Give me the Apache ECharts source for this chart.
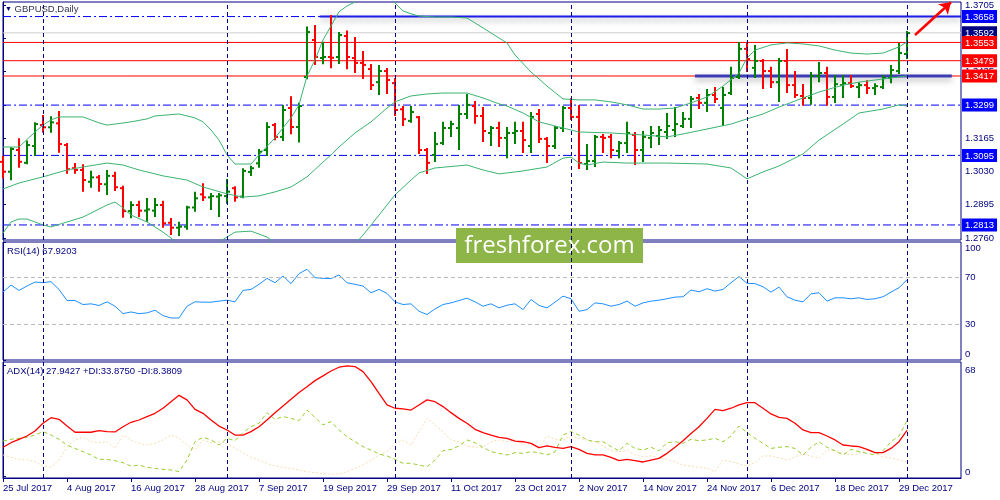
<!DOCTYPE html>
<html>
<head>
<meta charset="utf-8">
<script src="https://cdn.jsdelivr.net/npm/echarts@6/dist/echarts.min.js"></script>
<style>
html,body{margin:0;padding:0;background:#fff;}
#main{width:1000px;height:500px;}
</style>
</head>
<body>
<div id="main"></div>
<script>
// GBPUSD daily, 25 Jul - 29 Dec 2017, one bar every trading day
var dateLabels = ['25 Jul 2017','4 Aug 2017','16 Aug 2017','28 Aug 2017','7 Sep 2017','19 Sep 2017','29 Sep 2017',
  '11 Oct 2017','23 Oct 2017','2 Nov 2017','14 Nov 2017','24 Nov 2017','6 Dec 2017','18 Dec 2017','29 Dec 2017'];

var openP = [1.3069,1.3029,1.3117,1.3065,1.3133,1.3218,1.3209,1.3225,1.3137,1.3043,
  1.3036,1.2988,1.3006,1.2978,1.3012,1.2962,1.2869,1.2894,1.2871,1.2871,
  1.2894,1.2822,1.2802,1.2806,1.2884,1.2937,1.2925,1.2928,1.2930,1.2962,
  1.2928,1.3028,1.3063,1.3117,1.3218,1.3170,1.3287,1.3210,1.3413,1.3563,
  1.3490,1.3494,1.3494,1.3579,1.3490,1.3470,1.3445,1.3392,1.3437,1.3388,
  1.3282,1.3235,1.3250,1.3117,1.3097,1.3145,1.3206,1.3206,1.3263,1.3295,
  1.3255,1.3186,1.3206,1.3166,1.3186,1.3194,1.3133,1.3263,1.3162,1.3133,
  1.3206,1.3287,1.3251,1.3060,1.3072,1.3170,1.3170,1.3113,1.3145,1.3178,
  1.3117,1.3166,1.3174,1.3190,1.3198,1.3214,1.3243,1.3328,1.3308,1.3340,
  1.3287,1.3348,1.3413,1.3527,1.3450,1.3478,1.3437,1.3392,1.3478,1.3380,
  1.3336,1.3328,1.3417,1.3429,1.3332,1.3380,1.3388,1.3372,1.3380,1.3368,
  1.3372,1.3409,1.3437,1.3506];
var highP = [1.3090,1.3124,1.3160,1.3151,1.3225,1.3255,1.3250,1.3271,1.3141,1.3060,
  1.3055,1.3029,1.3012,1.3032,1.3025,1.2968,1.2905,1.2907,1.2918,1.2918,
  1.2907,1.2837,1.2822,1.2887,1.2944,1.2978,1.2939,1.2939,1.2995,1.2966,
  1.3039,1.3049,1.3117,1.3225,1.3222,1.3295,1.3331,1.3304,1.3614,1.3620,
  1.3552,1.3660,1.3591,1.3597,1.3571,1.3514,1.3462,1.3458,1.3445,1.3405,
  1.3291,1.3291,1.3251,1.3121,1.3186,1.3227,1.3231,1.3295,1.3340,1.3312,
  1.3287,1.3210,1.3227,1.3206,1.3227,1.3227,1.3267,1.3279,1.3166,1.3210,
  1.3291,1.3324,1.3295,1.3137,1.3174,1.3178,1.3178,1.3149,1.3227,1.3186,
  1.3190,1.3210,1.3210,1.3263,1.3287,1.3267,1.3332,1.3340,1.3360,1.3368,
  1.3368,1.3450,1.3551,1.3551,1.3539,1.3482,1.3450,1.3486,1.3522,1.3433,
  1.3380,1.3429,1.3470,1.3450,1.3417,1.3417,1.3417,1.3388,1.3396,1.3384,
  1.3417,1.3458,1.3547,1.3595];
var lowP = [1.3006,1.2998,1.3049,1.3063,1.3097,1.3191,1.3191,1.3110,1.3025,1.3025,
  1.2952,1.2968,1.2952,1.2939,1.2955,1.2846,1.2844,1.2849,1.2830,1.2849,
  1.2806,1.2776,1.2772,1.2798,1.2871,1.2914,1.2878,1.2849,1.2903,1.2911,
  1.2925,1.3016,1.3049,1.3097,1.3160,1.3157,1.3185,1.3151,1.3408,1.3466,
  1.3469,1.3452,1.3470,1.3448,1.3433,1.3409,1.3364,1.3344,1.3348,1.3259,
  1.3218,1.3231,1.3105,1.3024,1.3072,1.3141,1.3174,1.3121,1.3247,1.3227,
  1.3153,1.3137,1.3133,1.3088,1.3145,1.3109,1.3109,1.3149,1.3068,1.3125,
  1.3194,1.3243,1.3044,1.3040,1.3052,1.3109,1.3088,1.3088,1.3109,1.3060,
  1.3072,1.3129,1.3141,1.3166,1.3174,1.3210,1.3210,1.3287,1.3275,1.3312,
  1.3218,1.3344,1.3409,1.3437,1.3413,1.3368,1.3372,1.3316,1.3352,1.3332,
  1.3300,1.3304,1.3396,1.3300,1.3312,1.3332,1.3372,1.3332,1.3348,1.3344,
  1.3368,1.3392,1.3429,1.3490];
var closeP = [1.3029,1.3121,1.3069,1.3137,1.3222,1.3209,1.3229,1.3141,1.3039,1.3036,
  1.2995,1.3006,1.2979,1.3012,1.2966,1.2869,1.2894,1.2871,1.2876,1.2894,
  1.2820,1.2802,1.2806,1.2884,1.2921,1.2925,1.2930,1.2933,1.2948,1.2925,
  1.3032,1.3043,1.3110,1.3210,1.3170,1.3279,1.3210,1.3295,1.3595,1.3494,
  1.3494,1.3491,1.3583,1.3494,1.3470,1.3462,1.3380,1.3437,1.3401,1.3279,
  1.3242,1.3271,1.3117,1.3065,1.3141,1.3206,1.3222,1.3263,1.3300,1.3255,
  1.3194,1.3206,1.3166,1.3186,1.3194,1.3157,1.3251,1.3162,1.3133,1.3206,
  1.3287,1.3251,1.3064,1.3072,1.3170,1.3166,1.3117,1.3145,1.3186,1.3117,
  1.3170,1.3186,1.3198,1.3214,1.3222,1.3243,1.3324,1.3308,1.3340,1.3324,
  1.3340,1.3409,1.3527,1.3486,1.3478,1.3437,1.3392,1.3478,1.3380,1.3340,
  1.3328,1.3417,1.3429,1.3332,1.3384,1.3388,1.3376,1.3380,1.3368,1.3376,
  1.3409,1.3441,1.3510,1.3591];

// Bollinger bands, [bar, price]
var bbUpper = [[0,1.3129],[2,1.3129],[4,1.3190],[5,1.3218],[6,1.3239],[7,1.3251],[10,1.3251],[12,1.3227],
  [13,1.3218],[14,1.3222],[16,1.3231],[18,1.3243],[19,1.3255],[22,1.3263],[24,1.3247],[25,1.3231],[26,1.3198],
  [27,1.3157],[28,1.3097],[29,1.3060],[31,1.3060],[32,1.3097],[34,1.3166],[36,1.3247],[37,1.3300],[38,1.3417],
  [39,1.3482],[40,1.3563],[41,1.3620],[42,1.3677],[43,1.3701],[44,1.3717],[45,1.3750],[46,1.3762],[47,1.3762],
  [48,1.3746],[49,1.3713],[50,1.3681],[51,1.3669],[52,1.3660],[54,1.3656],[56,1.3656],[58,1.3652],[60,1.3612],
  [62,1.3571],[63,1.3551],[64,1.3502],[66,1.3433],[67,1.3405],[68,1.3376],[70,1.3324],[72,1.3320],[74,1.3320],
  [76,1.3312],[78,1.3300],[80,1.3283],[82,1.3283],[84,1.3287],[86,1.3308],[88,1.3332],[90,1.3376],[92,1.3429],
  [93,1.3490],[94,1.3522],[96,1.3543],[98,1.3551],[100,1.3547],[102,1.3539],[104,1.3522],[106,1.3510],
  [108,1.3506],[110,1.3510],[112,1.3535],[113,1.3555]];
var bbMid = [[0,1.2959],[2,1.2983],[5,1.3008],[8,1.3036],[10,1.3048],[13,1.3064],[15,1.3056],[17,1.3036],
  [20,1.3012],[23,1.2995],[25,1.2967],[28,1.2939],[30,1.2926],[32,1.2931],[34,1.2947],[36,1.2967],[38,1.3008],
  [40,1.3068],[41,1.3097],[42,1.3129],[44,1.3186],[46,1.3231],[48,1.3287],[49,1.3312],[51,1.3336],[53,1.3344],
  [55,1.3348],[58,1.3348],[60,1.3328],[62,1.3304],[63,1.3295],[65,1.3267],[67,1.3231],[70,1.3206],[72,1.3190],
  [76,1.3186],[80,1.3178],[83,1.3170],[85,1.3182],[88,1.3202],[91,1.3222],[93,1.3243],[95,1.3263],[97,1.3291],
  [100,1.3328],[102,1.3352],[105,1.3380],[107,1.3392],[110,1.3405],[113,1.3417]];
var bbLower = [[0,1.2780],[1,1.2825],[2,1.2837],[3,1.2837],[5,1.2813],[6,1.2805],[8,1.2825],[10,1.2845],
  [11,1.2861],[13,1.2894],[14,1.2906],[15,1.2882],[16,1.2853],[18,1.2825],[20,1.2784],[21,1.2760],[22,1.2732],
  [24,1.2703],[26,1.2719],[27,1.2744],[28,1.2764],[29,1.2784],[31,1.2788],[33,1.2764],[34,1.2740],[36,1.2687],
  [38,1.2647],[40,1.2622],[42,1.2663],[44,1.2736],[45,1.2772],[47,1.2853],[49,1.2935],[51,1.2995],[52,1.3024],
  [54,1.3044],[58,1.3056],[60,1.3036],[62,1.3020],[65,1.3032],[68,1.3048],[70,1.3084],[71,1.3088],[72,1.3064],
  [73,1.3056],[75,1.3068],[78,1.3064],[83,1.3064],[88,1.3060],[91,1.3044],[93,1.3000],[95,1.3028],[97,1.3052],
  [100,1.3101],[102,1.3157],[105,1.3222],[107,1.3267],[110,1.3283],[112,1.3300],[113,1.3295]];

var rsi = [57.5,63.5,59.0,62.7,66.1,65.5,66.4,59.8,50.4,50.4,
  47.0,47.6,46.2,49.3,45.6,39.3,40.7,39.3,39.9,42.2,
  37.6,35.6,35.6,45.6,49.3,49.0,49.0,49.9,50.7,49.3,
  59.0,59.8,64.1,69.2,65.5,71.2,64.7,73.2,76.9,69.8,
  69.2,69.0,72.1,65.5,64.1,62.7,57.0,59.8,56.4,49.3,
  47.0,47.6,41.3,38.5,43.3,47.0,48.4,50.4,52.4,49.3,
  45.6,47.6,44.2,46.4,47.6,42.7,51.3,46.2,44.2,49.0,
  54.1,51.9,41.3,42.7,48.4,47.6,45.6,47.0,49.9,45.6,
  48.4,49.9,50.7,51.9,53.3,53.6,59.3,57.8,60.4,58.4,
  59.8,65.5,70.7,65.0,64.7,62.1,57.5,61.8,53.6,50.7,
  49.3,56.1,57.0,49.9,52.7,52.7,51.9,52.7,51.3,51.9,
  53.6,57.5,61.3,67.9];
var adx = [17.6,20.4,22.5,24.5,27.6,32.3,35.7,34.7,30.6,26.8,
  26.8,26.8,27.8,27.2,27.0,30.2,32.9,34.3,36.4,38.4,
  41.5,45.5,49.4,46.6,40.8,38.4,34.3,30.6,28.2,25.1,
  25.1,27.2,30.2,34.3,38.8,42.9,47.0,51.1,54.7,58.4,
  61.3,64.3,66.6,67.4,67.0,63.9,57.8,50.6,43.5,41.5,
  41.1,40.4,43.5,46.6,45.5,42.5,38.8,35.3,32.3,28.6,
  26.6,25.1,23.7,23.1,21.4,21.0,20.0,17.4,18.4,17.6,
  16.9,18.0,16.3,13.9,12.9,12.9,11.4,9.4,10.2,9.4,
  8.6,9.8,10.8,13.9,17.6,21.6,26.1,30.2,35.3,40.8,
  40.0,41.5,43.5,44.9,44.9,41.5,38.0,35.9,35.3,32.3,
  28.2,26.6,26.6,24.5,22.1,19.0,18.4,18.0,16.3,14.3,
  14.3,16.9,21.0,27.9];
var plusDI = [21.4,22.5,23.1,23.7,25.1,27.2,25.1,22.5,19.0,16.9,
  14.9,12.9,10.2,10.2,9.4,8.2,6.1,6.7,5.3,4.7,
  4.1,3.7,2.7,9.8,21.0,23.7,22.1,19.0,23.1,21.6,
  26.6,30.2,32.3,38.8,34.7,36.4,35.3,33.9,40.4,35.9,
  31.3,33.3,28.2,24.1,21.0,18.0,15.9,13.5,12.3,10.2,
  7.8,7.8,6.7,5.7,9.8,15.5,16.3,18.4,22.1,20.4,
  17.6,14.9,13.9,12.9,14.3,13.9,14.9,14.3,12.9,14.9,
  25.1,27.2,25.1,22.1,21.0,21.0,18.0,15.5,20.0,16.9,
  15.9,17.6,15.5,20.4,21.0,20.0,22.5,21.6,22.1,23.1,
  21.0,24.5,30.6,26.6,23.1,20.0,16.9,17.6,18.0,16.9,
  12.9,17.6,21.0,17.6,15.5,12.9,16.3,14.9,13.9,12.9,
  15.5,21.0,24.5,33.9];
var minusDI = [12.9,11.4,10.2,9.8,8.8,6.1,5.3,9.8,17.6,22.1,
  23.7,21.0,20.4,21.0,16.9,25.1,22.1,20.0,19.0,20.0,
  22.1,25.1,23.1,19.0,15.9,22.1,20.4,21.0,20.0,16.9,
  14.3,11.4,9.8,7.8,6.1,5.3,4.7,3.7,2.7,2.0,
  1.6,1.2,1.2,2.7,4.7,6.7,9.8,12.9,14.9,20.0,
  22.1,19.0,27.2,35.3,31.3,27.2,22.1,21.0,18.4,17.6,
  17.6,21.0,22.1,21.0,22.1,19.0,20.0,16.9,24.5,22.5,
  22.1,24.5,23.1,22.1,21.0,18.4,15.5,14.9,15.9,12.9,
  11.8,12.3,11.1,10.2,8.8,6.7,6.1,5.3,4.7,2.7,
  9.8,8.8,7.4,6.1,8.2,12.3,12.3,11.1,9.8,11.8,
  13.5,12.3,11.1,15.9,15.5,13.9,12.9,13.9,15.9,13.9,
  11.8,11.1,9.8,8.4];

var separators = [5, 28, 49, 71, 93, 113];
var priceTicks = [1.2760, 1.2895, 1.3030, 1.3165, 1.3300, 1.3435, 1.3570, 1.3705];
var blueLevels = [1.3658, 1.3299, 1.3095, 1.2813];
var redLevels = [1.3553, 1.3479, 1.3417];
var bidPrice = 1.3592;
// drawn trend lines: [start bar, end bar, price]
var trendLines = [[39.6, 119.75, 1.3658], [86.5, 118.6, 1.3417]];
// arrow: [bar, price] start and end
var arrowFrom = [114, 1.3583], arrowTo = [118.5, 1.3716];

var NAVY = '#000080';
var FONT = 'Liberation Sans';
var XMAX = 119.75;
var PMIN = 1.2752, PMAX = 1.3717;

var bars = openP.map(function (o, i) { return [i, o, highP[i], lowP[i], closeP[i]]; });
function indexed(arr) { return arr.map(function (v, i) { return [i, v]; }); }

// MT4 style bar: high-low stick, open tick on the left, close tick on the right
function renderBar(params, api) {
  var i = api.value(0);
  var up = api.value(4) >= api.value(1);
  var h = api.coord([i, api.value(2)]);
  var l = api.coord([i, api.value(3)]);
  var o = api.coord([i, api.value(1)]);
  var c = api.coord([i, api.value(4)]);
  var st = { stroke: up ? '#008000' : '#FF0000', lineWidth: 2 };
  return {
    type: 'group',
    children: [
      { type: 'line', shape: { x1: h[0], y1: h[1] - 1, x2: l[0], y2: l[1] + 1 }, style: st },
      { type: 'line', shape: { x1: o[0] - 3, y1: o[1], x2: o[0], y2: o[1] }, style: st },
      { type: 'line', shape: { x1: c[0], y1: c[1], x2: c[0] + 3, y2: c[1] }, style: st }
    ]
  };
}

function sepLines() {
  return separators.map(function (s) {
    return { xAxis: s, lineStyle: { color: NAVY, type: [4, 3], width: 1 } };
  });
}

function hLine(name, from, to, v, ls) {
  return { name: name, type: 'line', xAxisIndex: 0, yAxisIndex: 0, data: [[from, v], [to, v]],
    symbol: 'none', silent: true, lineStyle: ls, z: 1 };
}

var levelSeries = [];
blueLevels.forEach(function (v) {
  levelSeries.push(hLine('lvl', 0, XMAX, v, { color: '#0000FF', type: [8, 3, 2, 3], width: 1 }));
});
levelSeries.push(hLine('bid', 0, XMAX, bidPrice, { color: '#D0D0D0', width: 1 }));
redLevels.forEach(function (v) {
  levelSeries.push(hLine('lvl', 0, XMAX, v, { color: '#FF0000', width: 1 }));
});
levelSeries.push(hLine('trend', trendLines[0][0], trendLines[0][1], trendLines[0][2],
  { color: '#1E1EE6', width: 2, shadowColor: 'rgba(0,0,0,0.35)', shadowBlur: 6, shadowOffsetY: 3 }));
levelSeries.push(hLine('trend', trendLines[1][0], trendLines[1][1], trendLines[1][2],
  { color: '#3C3CB4', width: 3, shadowColor: 'rgba(0,0,0,0.35)', shadowBlur: 6, shadowOffsetY: 3 }));

var xAxes = [0, 1, 2].map(function (g) {
  return {
    gridIndex: g, type: 'value', min: 0, max: XMAX, interval: 8, show: g === 2,
    axisLine: { show: true, onZero: false, lineStyle: { color: NAVY } },
    axisTick: { show: true, length: 4, lineStyle: { color: NAVY } },
    splitLine: { show: false },
    axisLabel: {
      show: g === 2, align: 'left', margin: 5, color: NAVY, fontSize: 9.5, fontFamily: FONT,
      showMaxLabel: false,
      formatter: function (v) { return (v % 8 === 0 && dateLabels[v / 8]) ? dateLabels[v / 8] : ''; }
    }
  };
});

function yAx(g, min, max, ticks, fmt) {
  return {
    gridIndex: g, type: 'value', position: 'right', min: min, max: max,
    axisLine: { show: true, lineStyle: { color: NAVY } },
    axisTick: { show: true, length: 3, customValues: ticks, lineStyle: { color: NAVY } },
    splitLine: { show: false },
    axisLabel: {
      customValues: ticks, formatter: fmt, margin: 4, color: NAVY, fontSize: 9.5, fontFamily: FONT,
      rich: {
        t: { padding: [13, 0, 0, 0], fontSize: 9.5, fontFamily: FONT, color: NAVY },
        t2: { padding: [11, 0, 0, 0], fontSize: 9.5, fontFamily: FONT, color: NAVY },
        b: { padding: [0, 0, 11, 0], fontSize: 9.5, fontFamily: FONT, color: NAVY },
        b2: { padding: [0, 0, 7, 0], fontSize: 9.5, fontFamily: FONT, color: NAVY }
      }
    }
  };
}

// extra price axes that only carry the coloured value boxes
function boxAxis(values, style) {
  return {
    gridIndex: 0, type: 'value', position: 'right', min: PMIN, max: PMAX,
    axisLine: { show: false }, axisTick: { show: false }, splitLine: { show: false },
    axisLabel: {
      customValues: values, margin: 1, fontSize: 9.5, fontFamily: FONT,
      formatter: function (v) {
        var k = v.toFixed(4);
        return '{' + (style[k] || 'n') + '|' + k + '}';
      },
      rich: {
        blue: { backgroundColor: '#0000FF', color: '#fff', padding: [2, 3, 1, 3], fontSize: 9.5, fontFamily: FONT },
        red: { backgroundColor: '#FF0000', color: '#fff', padding: [2, 3, 1, 3], fontSize: 9.5, fontFamily: FONT },
        navy: { backgroundColor: NAVY, color: '#fff', padding: [2, 3, 1, 3], fontSize: 9.5, fontFamily: FONT },
        n: { color: NAVY, fontSize: 9.5, fontFamily: FONT }
      }
    }
  };
}
var boxStyle = {};
blueLevels.forEach(function (v) { boxStyle[v.toFixed(4)] = 'blue'; });
redLevels.forEach(function (v) { boxStyle[v.toFixed(4)] = 'red'; });
boxStyle[bidPrice.toFixed(4)] = 'navy';

var option = {
  animation: false,
  backgroundColor: '#fff',
  textStyle: { fontFamily: FONT },
  title: [
    { left: 5, top: 4, padding: 0, text: '{t|▼} GBPUSD,Daily',
      textStyle: { fontSize: 9.5, fontWeight: 'normal', color: '#34345a', fontFamily: FONT,
        rich: { t: { fontSize: 7, color: NAVY } } } },
    { left: 7, top: 246, padding: 0, text: 'RSI(14) 67.9203',
      textStyle: { fontSize: 9.5, fontWeight: 'normal', color: NAVY, fontFamily: FONT } },
    { left: 7, top: 366, padding: 0, text: 'ADX(14) 27.9427 +DI:33.8750 -DI:8.3809',
      textStyle: { fontSize: 9.5, fontWeight: 'normal', color: NAVY, fontFamily: FONT } }
  ],
  grid: [
    { left: 3, right: 39, top: 2, height: 238, show: true, borderColor: NAVY, borderWidth: 1, outerBoundsMode: 'none' },
    { left: 3, right: 39, top: 242, height: 118, show: true, borderColor: NAVY, borderWidth: 1, outerBoundsMode: 'none' },
    { left: 3, right: 39, top: 362, height: 116, show: true, borderColor: NAVY, borderWidth: 1, outerBoundsMode: 'none' }
  ],
  xAxis: xAxes,
  yAxis: [
    yAx(0, PMIN, PMAX, priceTicks, function (v) { return v.toFixed(4); }),
    yAx(1, 0, 100, [0, 30, 70, 100], function (v) {
      if (v === 100) return '{t|100}';
      if (v === 0) return '{b|0}';
      return String(v);
    }),
    yAx(2, -1.2, 69.8, [0, 68], function (v) { return v === 68 ? '{t2|68}' : '{b2|0}'; }),
    boxAxis([bidPrice], boxStyle),
    boxAxis(blueLevels.concat(redLevels), boxStyle)
  ],
  series: levelSeries.concat([
    { name: 'BB upper', type: 'line', xAxisIndex: 0, yAxisIndex: 0, data: bbUpper, symbol: 'none',
      lineStyle: { color: '#3CB371', width: 1 }, silent: true },
    { name: 'BB middle', type: 'line', xAxisIndex: 0, yAxisIndex: 0, data: bbMid, symbol: 'none',
      lineStyle: { color: '#3CB371', width: 1 }, silent: true,
      markLine: { silent: true, symbol: ['none', 'none'], label: { show: false },
        data: sepLines().concat([[
          { coord: arrowFrom, symbol: 'none', lineStyle: { color: '#FF0000', type: 'solid', width: 2.5 } },
          { coord: arrowTo, symbol: 'arrow', symbolSize: 11 }
        ]]) } },
    { name: 'BB lower', type: 'line', xAxisIndex: 0, yAxisIndex: 0, data: bbLower, symbol: 'none',
      lineStyle: { color: '#3CB371', width: 1 }, silent: true },
    { name: 'GBPUSD', type: 'custom', xAxisIndex: 0, yAxisIndex: 0, data: bars, renderItem: renderBar,
      encode: { x: 0, y: [1, 2, 3, 4] }, z: 3, silent: true },
    { name: 'RSI', type: 'line', xAxisIndex: 1, yAxisIndex: 1, data: indexed(rsi), symbol: 'none',
      lineStyle: { color: '#1E90FF', width: 1 }, silent: true,
      markLine: { silent: true, symbol: ['none', 'none'], label: { show: false },
        data: sepLines().concat([
          { yAxis: 70, lineStyle: { color: '#BDBDBD', type: [4, 3], width: 1 } },
          { yAxis: 30, lineStyle: { color: '#BDBDBD', type: [4, 3], width: 1 } }
        ]) } },
    { name: '-DI', type: 'line', xAxisIndex: 2, yAxisIndex: 2, data: indexed(minusDI), symbol: 'none',
      lineStyle: { color: '#F5DEB3', width: 1, type: [2, 2] }, silent: true },
    { name: '+DI', type: 'line', xAxisIndex: 2, yAxisIndex: 2, data: indexed(plusDI), symbol: 'none',
      lineStyle: { color: '#9ACD32', width: 1, type: [4, 3] }, silent: true },
    { name: 'ADX', type: 'line', xAxisIndex: 2, yAxisIndex: 2, data: indexed(adx), symbol: 'none',
      lineStyle: { color: '#FF0000', width: 1.3 }, silent: true,
      markLine: { silent: true, symbol: ['none', 'none'], label: { show: false }, data: sepLines() } }
  ]),
  graphic: [
    { type: 'group', left: 456, top: 228, z: 100, silent: true, children: [
      { type: 'rect', shape: { x: 0, y: 0, width: 187, height: 35 }, style: { fill: '#8DB547' } },
      { type: 'text', x: 93.5, y: 18, style: { text: 'freshforex.com', fill: '#fff', fontSize: 24,
        fontFamily: 'Open Sans', align: 'center', verticalAlign: 'middle' } }
    ] }
  ]
};

var myChart = echarts.init(document.getElementById('main'));
myChart.setOption(option);
</script>
</body>
</html>
